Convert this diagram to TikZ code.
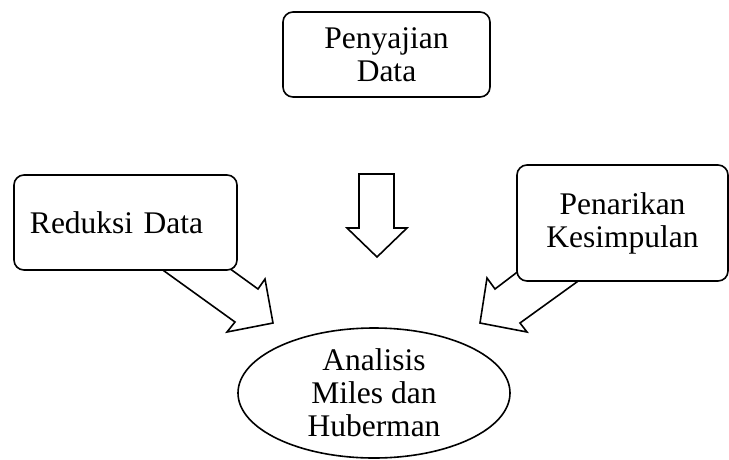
\documentclass[tikz,border=0pt]{standalone}
\usepackage{fontspec}
\setmainfont{Liberation Serif}
\usetikzlibrary{shapes.geometric}
\begin{document}
\begin{tikzpicture}[x=1pt,y=-1pt,
  box/.style={draw, line width=1.6pt, rounded corners=10pt, fill=white, inner sep=0pt,
    font=\fontsize{31.5}{33}\selectfont, align=center},
  blockarrow/.style={draw, line width=1.6pt, fill=white, line join=miter}]
\useasboundingbox (0,0) rectangle (729,459);
% block arrows
\draw[blockarrow] (160,268) -- (235,322) -- (227,332) -- (273,323) -- (265,279) -- (258,289) -- (229,268) -- cycle;
\draw[blockarrow] (520,270) -- (495,289) -- (487,278) -- (480,323) -- (527,332) -- (520,323) -- (581,279) -- cycle;
\draw[blockarrow] (359,174) -- (394,174) -- (394,228) -- (407,228) -- (377,257) -- (347,228) -- (359,228) -- cycle;
% boxes
\node[box, minimum width=207pt, minimum height=85pt] (pen) at (386.5,54.5) {Penyajian\\Data};
\node[box, minimum width=223pt, minimum height=95pt, text width=191pt, align=left] (red) at (125.5,222.5) {Reduksi Data};
\node[box, minimum width=211pt, minimum height=116pt] (tar) at (622.5,223) {Penarikan\\Kesimpulan};
\node[ellipse, draw, line width=1.6pt, fill=white, inner sep=0pt, minimum width=272pt, minimum height=130pt,
  font=\fontsize{31.5}{33}\selectfont, align=center] (ana) at (374,393) {Analisis\\Miles dan\\Huberman};
\end{tikzpicture}
\end{document}
